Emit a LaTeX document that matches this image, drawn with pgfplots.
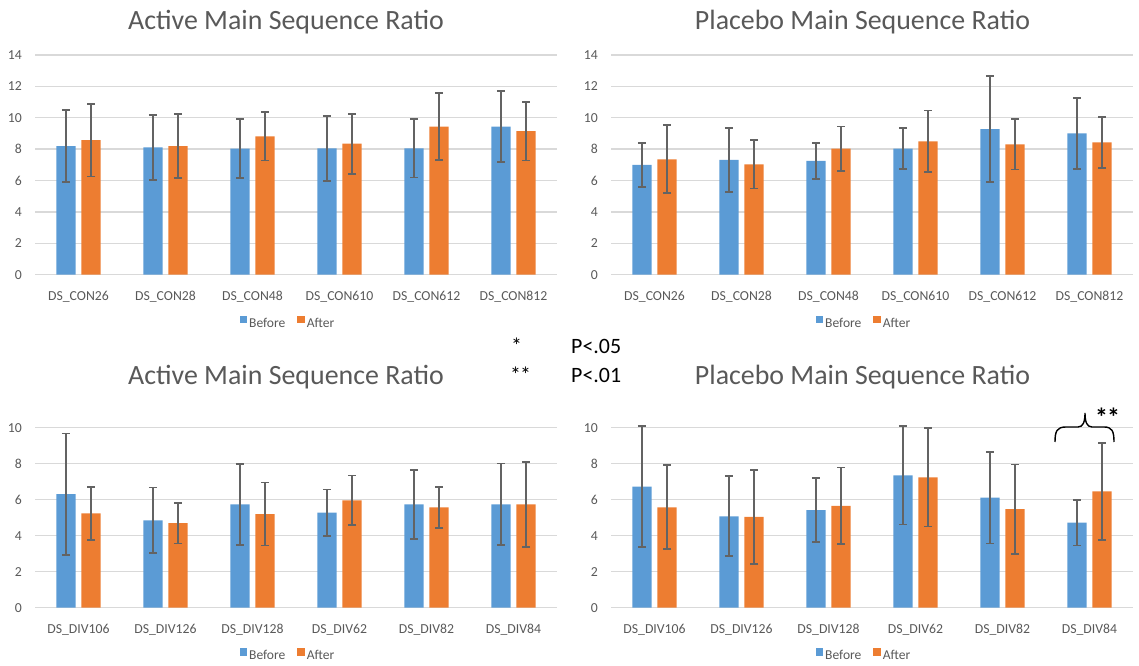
\documentclass[border=0pt]{standalone}
\usepackage{pgfplots}
\usepackage{pgfplotstable}
\pgfplotsset{compat=1.18}
\usepackage{fontspec}
\setmainfont{Carlito}
\definecolor{cblue}{HTML}{5B9BD5}
\definecolor{corange}{HTML}{ED7D31}
\definecolor{egray}{HTML}{636363}
\definecolor{ggray}{HTML}{D9D9D9}
\definecolor{tgray}{HTML}{595959}

% x  before  err  after  err
\pgfplotstableread{
x b be a ae
0 8.20 2.27 8.58 2.32
1 8.11 2.08 8.20 2.06
2 8.03 1.87 8.81 1.54
3 8.05 2.08 8.35 1.91
4 8.05 1.86 9.43 2.13
5 9.43 2.27 9.15 1.87
}\activecon
\pgfplotstableread{
x b be a ae
0 6.99 1.38 7.35 2.17
1 7.31 2.05 7.03 1.54
2 7.26 1.15 8.03 1.41
3 8.03 1.30 8.50 1.96
4 9.28 3.36 8.30 1.60
5 9.01 2.27 8.43 1.62
}\placebocon
\pgfplotstableread{
x b be a ae
0 6.31 3.37 5.24 1.46
1 4.85 1.83 4.70 1.13
2 5.74 2.24 5.20 1.75
3 5.28 1.29 5.96 1.38
4 5.74 1.91 5.57 1.14
5 5.74 2.27 5.74 2.35
}\activediv
\pgfplotstableread{
x b be a ae
0 6.73 3.38 5.58 2.33
1 5.08 2.23 5.05 2.61
2 5.42 1.77 5.66 2.13
3 7.35 2.73 7.24 2.73
4 6.12 2.55 5.47 2.49
5 4.73 1.27 6.46 2.68
}\placebodiv

\pgfplotsset{
  panel/.style={
    scale only axis, width=522bp,
    xmin=-0.5, xmax=5.5, ymin=0,
    xtick={0,...,5},
    axis line style={draw=none},
    major tick length=0pt,
    ymajorgrids, grid style={ggray, line width=1.3bp},
    tick label style={font=\fontsize{13.8}{16}\selectfont, text=tgray, inner sep=0pt},
    /pgf/number format/assume math mode=true,
    yticklabel style={anchor=east, xshift=-13bp},
    xticklabel style={anchor=base, yshift=-25.5bp},
    legend columns=2,
    legend style={draw=none, fill=none, font=\fontsize{13.6}{16}\selectfont, text=tgray,
      anchor=center, inner sep=0pt,
      /tikz/every even column/.append style={column sep=10bp}},
    clip=false,
  },
  sqlegend/.style={legend image code/.code={\fill[##1] (0bp,0.2bp) rectangle (7.4bp,7.6bp);}},
  ebars/.style={error bars/y dir=both, error bars/y explicit,
    error bars/error bar style={draw=egray, line width=2.1bp},
    error bars/error mark options={draw=egray, rotate=90, mark size=4bp, line width=1.8bp}},
  bbefore/.style={ybar, bar width=0.222, bar shift=0, fill=cblue, draw=none, sqlegend, ebars},
  bafter/.style={ybar, bar width=0.222, bar shift=0, fill=corange, draw=none, sqlegend, ebars},
}

\newcommand{\panelplots}[1]{%
  \addplot[bbefore] table[x expr=\thisrow{x}-0.144, y=b, y error=be] {#1};
  \addplot[bafter] table[x expr=\thisrow{x}+0.144, y=a, y error=ae] {#1};
  \legend{Before,After}
}

\begin{document}
\begin{tikzpicture}[x=1bp,y=1bp]
\path (0,0) rectangle (1139,666);

% ---------- Top left ----------
\begin{axis}[panel, at={(35bp,391.3bp)}, anchor=south west, height=219.7bp, ymax=14,
  ytick={0,2,...,14},
  xticklabels={DS\_CON26,DS\_CON28,DS\_CON48,DS\_CON610,DS\_CON612,DS\_CON812},
  legend style={at={(axis description cs:0.4847,-0.22)}}]
\panelplots{\activecon}
\end{axis}

% ---------- Top right ----------
\begin{axis}[panel, at={(611bp,391.3bp)}, anchor=south west, height=219.7bp, ymax=14,
  ytick={0,2,...,14},
  xticklabels={DS\_CON26,DS\_CON28,DS\_CON48,DS\_CON610,DS\_CON612,DS\_CON812},
  legend style={at={(axis description cs:0.4847,-0.22)}}]
\panelplots{\placebocon}
\end{axis}

% ---------- Bottom left ----------
\begin{axis}[panel, at={(35bp,58.3bp)}, anchor=south west, height=180bp, ymax=10,
  ytick={0,2,...,10},
  xticklabels={DS\_DIV106,DS\_DIV126,DS\_DIV128,DS\_DIV62,DS\_DIV82,DS\_DIV84},
  legend style={at={(axis description cs:0.4847,-0.2683)}}]
\panelplots{\activediv}
\end{axis}

% ---------- Bottom right ----------
\begin{axis}[panel, at={(611bp,58.3bp)}, anchor=south west, height=180bp, ymax=10,
  ytick={0,2,...,10},
  xticklabels={DS\_DIV106,DS\_DIV126,DS\_DIV128,DS\_DIV62,DS\_DIV82,DS\_DIV84},
  legend style={at={(axis description cs:0.4847,-0.2683)}}]
\panelplots{\placebodiv}
\end{axis}

% ---------- Titles ----------
\begin{scope}[every node/.style={font=\fontsize{28}{32}\selectfont, text=tgray, anchor=base, inner sep=0pt}]
\node at (286,636.3) {Active Main Sequence Ratio};
\node at (862.5,636.3) {Placebo Main Sequence Ratio};
\node at (286,281.3) {Active Main Sequence Ratio};
\node at (862.5,281.3) {Placebo Main Sequence Ratio};
\end{scope}

% ---------- Significance key ----------
\begin{scope}[every node/.style={font=\fontsize{22}{26}\selectfont, text=black, anchor=base west, inner sep=0pt}]
\node at (511,312) {*};
\node at (571,312) {P<.05};
\node at (510,283) {*\kern-1bp*};
\node at (571,283) {P<.01};
\end{scope}

% ---------- Brace and stars ----------
\draw[black, line width=1.4bp]
  (1055,224) .. controls (1055,235) and (1057,239) .. (1066,239)
  -- (1078,239) .. controls (1083,239) and (1085,244) .. (1085,253)
  .. controls (1085,244) and (1087,239) .. (1092,239)
  -- (1104,239) .. controls (1112,239) and (1114,235) .. (1114,224);
\node[font=\bfseries\fontsize{26}{30}\selectfont, anchor=base west, inner sep=0pt] at (1095,239) {*\kern-1bp*};
\end{tikzpicture}
\end{document}
